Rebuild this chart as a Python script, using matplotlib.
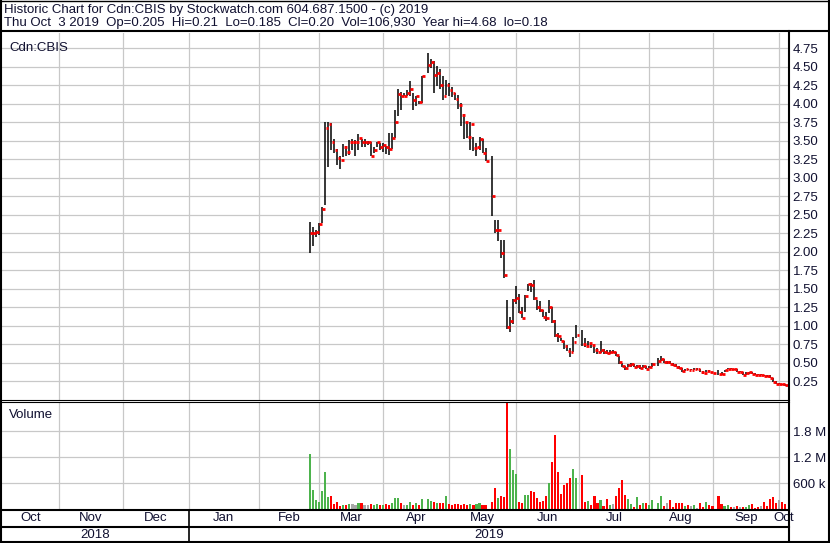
import numpy as np
import pandas as pd
import matplotlib
matplotlib.use("Agg")
import matplotlib.pyplot as plt
from matplotlib.lines import Line2D

plt.rcParams['font.family'] = ['Liberation Sans', 'DejaVu Sans']

W, H = 830, 543
TXT = '#101030'
FS = 9.5

# --- data: trading days on a weekday axis, TSX holidays left as gaps ---
axis_start = "2018-10-04"
holidays = ["2019-04-19", "2019-05-20", "2019-07-01", "2019-08-05", "2019-09-02"]
days = pd.bdate_range("2019-02-26", "2019-10-03", freq="C", holidays=holidays)

high = [
    # Feb 26 - Apr 18
    2.40, 2.34, 2.30, 2.39, 2.60, 3.75, 3.75, 3.74, 3.53, 3.39,
    3.30, 3.46, 3.43, 3.51, 3.53, 3.51, 3.59, 3.52, 3.53, 3.50,
    3.49, 3.42, 3.49, 3.47, 3.47, 3.43, 3.61, 3.60, 3.92, 4.20,
    4.16, 4.15, 4.19, 4.31, 4.14, 4.10, 4.04, 4.38,
    # Apr 22 - May 17
    4.68, 4.61, 4.58, 4.51, 4.47, 4.37, 4.32, 4.28, 4.23, 4.14,
    4.12, 4.01, 3.86, 3.76, 3.75, 3.55, 3.47, 3.55, 3.53, 3.40,
    # May 21 - Jun 28
    3.29, 2.43, 2.43, 2.16, 2.16, 1.35, 1.12, 1.36, 1.54, 1.43,
    1.26, 1.42, 1.57, 1.58, 1.62, 1.35, 1.34, 1.21, 1.19, 1.35,
    1.26, 1.08, 0.90, 0.83, 0.80, 0.74, 0.70, 0.85, 1.01,
    # Jul 2 - Aug 2
    0.94, 0.84, 0.80, 0.77, 0.74, 0.70, 0.80, 0.69, 0.67, 0.67,
    0.67, 0.65, 0.59, 0.50, 0.46, 0.48, 0.50, 0.49, 0.47, 0.47,
    0.47, 0.46, 0.46, 0.50,
    # Aug 6 - Aug 30
    0.56, 0.59, 0.55, 0.53, 0.52, 0.50, 0.48, 0.46, 0.43, 0.42,
    0.42, 0.42, 0.43, 0.43, 0.42, 0.39, 0.40, 0.40, 0.38,
    # Sep 3 - Oct 3
    0.40, 0.37, 0.40, 0.43, 0.43, 0.42, 0.41, 0.39, 0.38, 0.37,
    0.38, 0.37, 0.36, 0.35, 0.35, 0.34, 0.33, 0.33, 0.30, 0.25,
    0.23, 0.22, 0.21]
low = [
    1.98, 2.08, 2.20, 2.23, 2.39, 2.63, 3.15, 3.37, 3.33, 3.17,
    3.12, 3.28, 3.30, 3.31, 3.38, 3.29, 3.38, 3.42, 3.42, 3.44,
    3.29, 3.33, 3.41, 3.38, 3.35, 3.32, 3.31, 3.39, 3.54, 3.84,
    3.92, 4.10, 4.10, 4.10, 3.92, 3.97, 4.00, 4.01,
    4.41, 4.48, 4.15, 4.24, 4.20, 4.05, 4.12, 4.10, 4.09, 4.05,
    3.93, 3.70, 3.52, 3.54, 3.38, 3.36, 3.30, 3.37, 3.33, 3.23,
    2.49, 2.25, 2.15, 1.91, 1.65, 0.96, 0.91, 1.03, 1.30, 1.17,
    1.10, 1.19, 1.47, 1.46, 1.35, 1.21, 1.19, 1.12, 1.06, 1.17,
    1.04, 0.85, 0.78, 0.79, 0.68, 0.66, 0.58, 0.64, 0.84,
    0.73, 0.71, 0.72, 0.70, 0.63, 0.62, 0.63, 0.62, 0.62, 0.62,
    0.63, 0.59, 0.49, 0.44, 0.40, 0.44, 0.45, 0.44, 0.43, 0.42,
    0.43, 0.41, 0.43, 0.45,
    0.46, 0.53, 0.50, 0.49, 0.48, 0.46, 0.44, 0.41, 0.38, 0.39,
    0.40, 0.40, 0.40, 0.40, 0.37, 0.35, 0.37, 0.37, 0.36,
    0.34, 0.34, 0.37, 0.41, 0.41, 0.40, 0.38, 0.37, 0.33, 0.34,
    0.35, 0.35, 0.33, 0.33, 0.33, 0.32, 0.31, 0.29, 0.24, 0.21,
    0.21, 0.20, 0.185]
close = [
    2.25, 2.26, 2.27, 2.38, 2.58, 3.67, 3.73, 3.48, 3.38, 3.27,
    3.24, 3.41, 3.35, 3.48, 3.48, 3.48, 3.54, 3.48, 3.48, 3.48,
    3.30, 3.38, 3.48, 3.42, 3.44, 3.41, 3.39, 3.54, 3.75, 4.13,
    4.11, 4.11, 4.15, 4.20, 4.05, 4.10, 4.03, 4.37,
    4.53, 4.56, 4.39, 4.42, 4.25, 4.10, 4.26, 4.19, 4.14, 4.07,
    3.99, 3.85, 3.76, 3.55, 3.73, 3.40, 3.41, 3.52, 3.34, 3.23,
    2.75, 2.29, 2.30, 1.98, 1.68, 0.98, 1.07, 1.35, 1.37, 1.19,
    1.11, 1.40, 1.56, 1.55, 1.38, 1.25, 1.22, 1.12, 1.10, 1.25,
    1.07, 0.87, 0.86, 0.80, 0.73, 0.665, 0.64, 0.78, 0.88,
    0.75, 0.73, 0.77, 0.74, 0.67, 0.645, 0.67, 0.645, 0.635, 0.645,
    0.645, 0.60, 0.51, 0.455, 0.43, 0.465, 0.49, 0.45, 0.46, 0.43,
    0.455, 0.42, 0.45, 0.49,
    0.53, 0.55, 0.51, 0.51, 0.49, 0.47, 0.445, 0.425, 0.385, 0.41,
    0.405, 0.405, 0.42, 0.42, 0.38, 0.365, 0.39, 0.38, 0.365,
    0.355, 0.35, 0.40, 0.42, 0.415, 0.415, 0.38, 0.38, 0.34, 0.36,
    0.37, 0.355, 0.34, 0.335, 0.335, 0.325, 0.32, 0.30, 0.245, 0.22,
    0.22, 0.21, 0.20]
volume = [
    1270000, 438000, 207000, 161000, 415000, 854000, 277000, 300000, 115000, 161000,
    70000, 92000, 100000, 120000, 110000, 100000, 140000, 130000, 100000, 90000,
    120000, 100000, 120000, 90000, 100000, 110000, 90000, 140000, 250000, 250000,
    130000, 100000, 100000, 160000, 100000, 130000, 100000, 235000,
    220000, 190000, 160000, 140000, 130000, 140000, 300000, 110000, 90000, 110000,
    120000, 100000, 120000, 100000, 110000, 90000, 120000, 140000, 100000, 100000,
    169000, 492000, 262000, 307000, 277000, 2600000, 1380000, 900000, 807000, 169000,
    138000, 322000, 322000, 422000, 392000, 252000, 169000, 182000, 300000, 599000,
    1080000, 1710000, 862000, 346000, 553000, 607000, 715000, 922000, 715000,
    784000, 169000, 192000, 92000, 300000, 138000, 208000, 69000, 231000, 92000,
    115000, 300000, 485000, 669000, 330000, 231000, 115000, 54000, 277000, 92000,
    138000, 138000, 92000, 208000,
    138000, 300000, 69000, 138000, 208000, 46000, 138000, 138000, 138000, 69000,
    92000, 69000, 92000, 23000, 138000, 46000, 162000, 92000, 69000,
    300000, 115000, 69000, 92000, 46000, 46000, 69000, 46000, 46000, 46000,
    92000, 115000, 23000, 46000, 69000, 162000, 69000, 231000, 277000, 138000,
    208000, 162000, 106930]

month_starts = pd.date_range("2018-11-01", "2019-10-01", freq="MS")
price_ticks = np.arange(0.25, 4.76, 0.25)
vol_ticks = [600000, 1200000, 1800000]
vol_labels = ["600 k", "1.2 M", "1.8 M"]

# --- positions on the weekday axis ---
x = np.busday_count(np.datetime64(axis_start), days.values.astype("datetime64[D]"))
close = np.array(close)
high = np.array(high)
low = np.array(low)
volume = np.array(volume)

def wpos(d):
    p = np.busday_count(np.datetime64(axis_start), np.datetime64(d.date()))
    if d.weekday() >= 5:
        p -= 0.8
    return p

grid_x = [wpos(d) for d in month_starts]

slope = 3.0252  # px per weekday
x0 = (2 + 1.5) / slope
x1 = (789 + 1.5) / slope

def fx(px):
    return px / W

def fy(py):
    return 1 - py / H

fig = plt.figure(figsize=(W / 100, H / 100), dpi=100)
fig.patch.set_facecolor('white')

def style(a):
    a.set_xlim(x0, x1)
    a.set_xticks(grid_x)
    a.tick_params(axis='x', length=0, labelbottom=False)
    a.yaxis.tick_right()
    a.tick_params(axis='y', length=0, pad=2.6, labelsize=FS, labelcolor=TXT)
    a.grid(True, color='#c8c8c8', lw=0.9)
    a.set_axisbelow(True)
    for s in a.spines.values():
        s.set_visible(False)

# price panel
ax = fig.add_axes([fx(2), fy(399.8), fx(789) - fx(2), fy(33) - fy(399.8)])
style(ax)
ax.set_ylim(0, (399.8 - 33) / 74.0)
ax.set_yticks(price_ticks)
ax.set_yticklabels(["%.2f" % v for v in price_ticks])
ax.vlines(x, low, high, color='black', lw=1.1)
ax.hlines(close, x + 0.1, x + 1.05, color='#ff0000', lw=2.0)
ax.text(0.009, 0.976, "Cdn:CBIS", transform=ax.transAxes, fontsize=FS,
        color=TXT, ha='left', va='top')

# volume panel
axv = fig.add_axes([fx(2), fy(509), fx(789) - fx(2), fy(403) - fy(509)])
style(axv)
axv.set_ylim(0, 106 * 23077)
axv.set_yticks(vol_ticks)
axv.set_yticklabels(vol_labels)
prev = np.concatenate([[close[0]], close[:-1]])
vcol = np.where(close > prev + 1e-9, '#4db34d',
                np.where(close < prev - 1e-9, '#ff0000', '#a8a8a8'))
vcol[0] = '#4db34d'
axv.bar(x, volume, width=0.7, color=vcol, linewidth=0)
axv.text(0.009, 0.94, "Volume", transform=axv.transAxes, fontsize=FS,
         color=TXT, ha='left', va='top')

# date strip
axd = fig.add_axes([fx(2), fy(541), fx(789) - fx(2), fy(510) - fy(541)])
axd.set_xlim(x0, x1)
axd.set_ylim(0, 1)
axd.axis('off')
edges = [x0] + grid_x + [x1]
names = ["Oct"] + [d.strftime("%b") for d in month_starts]
for a, b, n in zip(edges[:-1], edges[1:], names):
    axd.text((a + b) / 2, 0.74, n, ha='center', va='center', fontsize=FS, color=TXT)
jan = grid_x[2]
axd.text((x0 + jan) / 2, 0.2, "2018", ha='center', va='center', fontsize=FS, color=TXT)
axd.text((jan + x1) / 2, 0.2, "2019", ha='center', va='center', fontsize=FS, color=TXT)
axd.axvline(jan, color='black', lw=1.2)

# header
fig.text(fx(4), fy(9.5), "Historic Chart for Cdn:CBIS by Stockwatch.com 604.687.1500 - (c) 2019",
         ha='left', va='center', fontsize=FS, color=TXT)
fig.text(fx(4), fy(23), "Thu Oct  3 2019  Op=0.205  Hi=0.21  Lo=0.185  Cl=0.20  Vol=106,930  Year hi=4.68  lo=0.18",
         ha='left', va='center', fontsize=FS, color=TXT)

# frame lines
def hline(py, lw, xa=0, xb=W):
    fig.add_artist(Line2D([fx(xa), fx(xb)], [fy(py), fy(py)], color='black', lw=lw))

def vline(px, lw, ya=0, yb=H):
    fig.add_artist(Line2D([fx(px), fx(px)], [fy(ya), fy(yb)], color='black', lw=lw))

hline(0.5, 1.0)
hline(31, 1.5)
hline(400.4, 0.8, 0, 789)
hline(402.4, 0.8, 0, 789)
hline(510, 1.5, 0, 789)
hline(527, 1.5, 0, 789)
hline(542, 1.5)
vline(1, 1.5)
vline(829, 1.5)
vline(789.3, 1.5, 31, H)

fig.savefig("out.png", dpi=100)
